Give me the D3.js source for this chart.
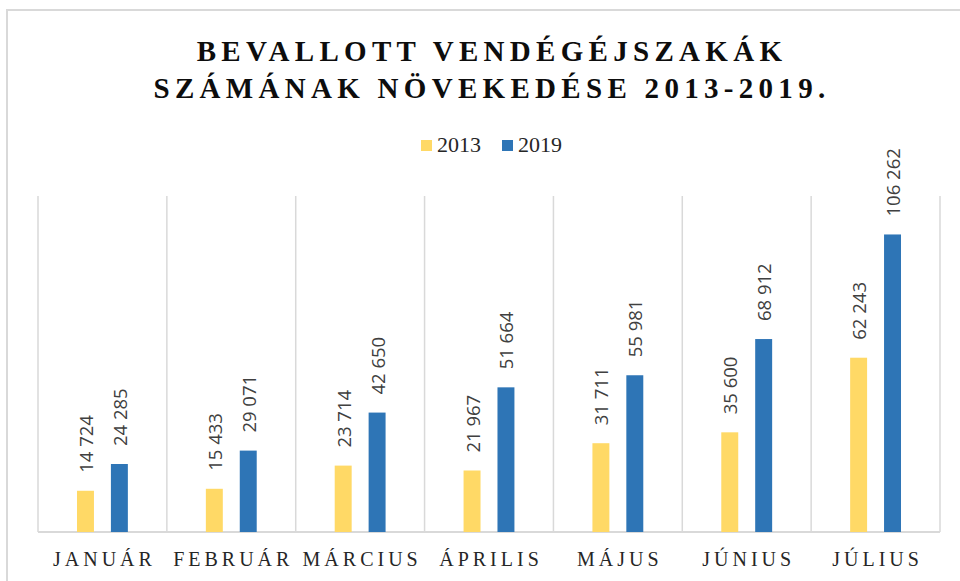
<!DOCTYPE html>
<html>
<head>
<meta charset="utf-8">
<script src="https://cdn.jsdelivr.net/npm/d3@7"></script>
<style>
  body { margin: 0; background: #fff; }
  svg { display: block; }
</style>
</head>
<body>
<svg id="chart" width="960" height="581"></svg>
<script>
var months = ["JANUÁR", "FEBRUÁR", "MÁRCIUS", "ÁPRILIS", "MÁJUS", "JÚNIUS", "JÚLIUS"];
var years = ["2013", "2019"];
var values2013 = [14724, 15433, 23714, 21967, 31711, 35600, 62243];
var values2019 = [24285, 29071, 42650, 51664, 55981, 68912, 106262];
var titleLines = ["BEVALLOTT VENDÉGÉJSZAKÁK", "SZÁMÁNAK NÖVEKEDÉSE 2013-2019."];
var colors = { "2013": "#FFD966", "2019": "#2E75B6" };

var svg = d3.select("#chart");

// outer chart border (only top/left visible)
svg.append("path")
  .attr("d", "M7,590 L7,10 L970,10")
  .attr("fill", "none")
  .attr("stroke", "#d9d9d9")
  .attr("stroke-width", 2);

// title
svg.append("g").selectAll("text")
  .data(titleLines)
  .enter().append("text")
  .attr("x", 492)
  .attr("y", function (d, i) { return 61 + i * 37; })
  .attr("text-anchor", "middle")
  .style("font-family", "'Liberation Serif', 'Times New Roman', serif")
  .style("font-weight", "bold")
  .style("font-size", "29px")
  .style("letter-spacing", "5.3px")
  .attr("fill", "#0d0d0d")
  .text(function (d) { return d; });

// legend
var legend = svg.append("g").selectAll("g")
  .data(years)
  .enter().append("g")
  .attr("transform", function (d, i) { return "translate(" + (421 + i * 81) + ",140)"; });
legend.append("rect")
  .attr("width", 11).attr("height", 11)
  .attr("fill", function (d) { return colors[d]; });
legend.append("text")
  .attr("x", 16).attr("y", 12)
  .style("font-family", "'Liberation Serif', 'Times New Roman', serif")
  .style("font-size", "22px")
  .attr("fill", "#262626")
  .text(function (d) { return d; });

var x0 = d3.scaleBand().domain(months).range([38, 940]).padding(0);
var x1 = d3.scaleBand().domain(years).range([0, x0.bandwidth()])
  .paddingInner(0.5).paddingOuter(1.15);
var y = d3.scaleLinear().domain([0, 120000]).range([532, 196]);

// category separators
var grid = svg.append("g");
grid.selectAll("line")
  .data(d3.range(months.length + 1))
  .enter().append("line")
  .attr("x1", function (i) { return x0.range()[0] + i * x0.step(); })
  .attr("x2", function (i) { return x0.range()[0] + i * x0.step(); })
  .attr("y1", y(120000)).attr("y2", y(0))
  .attr("stroke", "#d9d9d9").attr("stroke-width", 1.5);
grid.append("line")
  .attr("x1", 38).attr("x2", 940)
  .attr("y1", y(0)).attr("y2", y(0))
  .attr("stroke", "#d9d9d9").attr("stroke-width", 2);

var rows = months.map(function (m, i) {
  return { month: m, vals: [{ year: "2013", v: values2013[i] }, { year: "2019", v: values2019[i] }] };
});

var groups = svg.append("g").selectAll("g")
  .data(rows)
  .enter().append("g")
  .attr("transform", function (d) { return "translate(" + x0(d.month) + ",0)"; });

groups.selectAll("rect")
  .data(function (d) { return d.vals; })
  .enter().append("rect")
  .attr("x", function (d) { return x1(d.year); })
  .attr("width", x1.bandwidth())
  .attr("y", function (d) { return y(d.v); })
  .attr("height", function (d) { return y(0) - y(d.v); })
  .attr("fill", function (d) { return colors[d.year]; });

var fmt = function (v) { return d3.format(",")(v).replace(/,/g, " "); };

groups.selectAll("text")
  .data(function (d) { return d.vals; })
  .enter().append("text")
  .attr("transform", function (d) {
    return "translate(" + (x1(d.year) + x1.bandwidth() / 2 + 1) + "," + (y(d.v) - 18) + ") rotate(-90)";
  })
  .attr("dy", "0.35em")
  .style("font-family", "'Open Sans', sans-serif")
  .style("font-size", "18.5px")
  .attr("fill", "#404040")
  .text(function (d) { return fmt(d.v); });

// category labels
svg.append("g").selectAll("text")
  .data(months)
  .enter().append("text")
  .attr("x", function (d) { return x0(d) + x0.bandwidth() / 2 + 2; })
  .attr("y", 566)
  .attr("text-anchor", "middle")
  .style("font-family", "'Liberation Serif', 'Times New Roman', serif")
  .style("font-size", "20px")
  .style("letter-spacing", "4px")
  .attr("fill", "#262626")
  .text(function (d) { return d; });
</script>
</body>
</html>
